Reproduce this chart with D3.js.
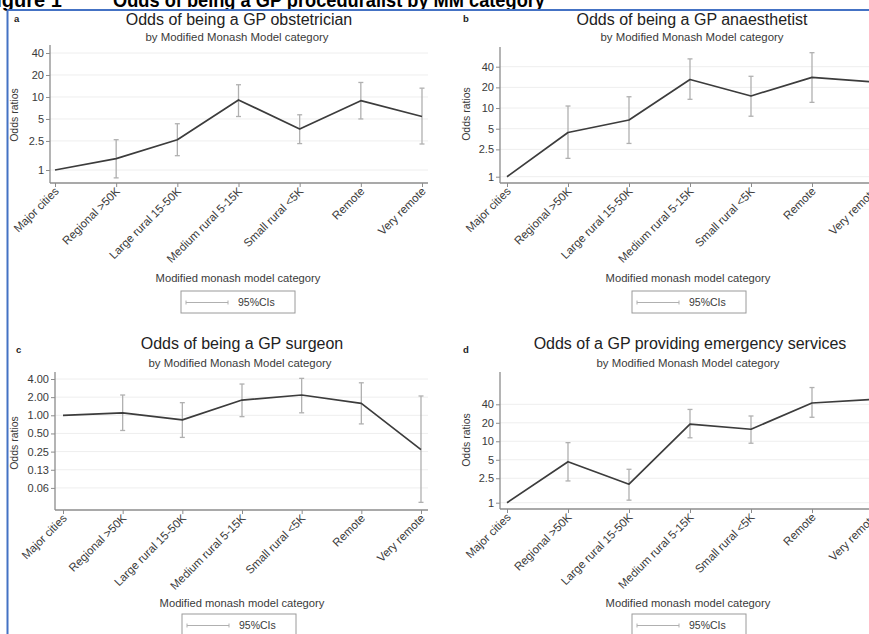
<!DOCTYPE html>
<html><head><meta charset="utf-8">
<script src="https://cdn.jsdelivr.net/npm/d3@7"></script>
<style>
html,body{margin:0;padding:0;background:#fff;}
svg{display:block;font-family:"Liberation Sans",Arial,sans-serif;}
</style></head>
<body>
<svg id="chart" width="869" height="634"></svg>
<script>
// ---------- DATA ----------
const categories = ["Major cities","Regional >50K","Large rural 15-50K","Medium rural 5-15K","Small rural <5K","Remote","Very remote"];

const obstetricianOR = [1, 1.43, 2.6, 9.1, 3.65, 8.9, 5.4];
const obstetricianLo = [null, 0.78, 1.57, 5.4, 2.3, 5.0, 2.27];
const obstetricianHi = [null, 2.6, 4.3, 14.7, 5.7, 15.8, 13.2];

const anaesthetistOR = [1, 4.4, 6.7, 26, 15, 28, 24];
const anaesthetistLo = [null, 1.85, 3.05, 13.4, 7.6, 12.1, 11];
const anaesthetistHi = [null, 10.7, 14.6, 52, 29, 64, 50];

const surgeonOR = [1, 1.1, 0.84, 1.79, 2.17, 1.58, 0.27];
const surgeonLo = [null, 0.56, 0.43, 0.95, 1.1, 0.72, 0.036];
const surgeonHi = [null, 2.17, 1.62, 3.3, 4.1, 3.46, 2.09];

const emergencyOR = [1, 4.65, 2.0, 19, 15.7, 42, 48];
const emergencyLo = [null, 2.26, 1.1, 11.4, 9.3, 24.6, 25];
const emergencyHi = [null, 9.5, 3.5, 33, 25.8, 75, 90];

const ticksWide = [1, 2.5, 5, 10, 20, 40];
const ticksWideLabels = ["1", "2.5", "5", "10", "20", "40"];
const ticksSurgeon = [0.0625, 0.125, 0.25, 0.5, 1, 2, 4];
const ticksSurgeonLabels = ["0.06", "0.13", "0.25", "0.50", "1.00", "2.00", "4.00"];

const panelLetters = ["a", "b", "c", "d"];
const panelTitles = ["Odds of being a GP obstetrician", "Odds of being a GP anaesthetist",
                     "Odds of being a GP surgeon", "Odds of a GP providing emergency services"];
const subtitle = "by Modified Monash Model category";
const xAxisTitle = "Modified monash model category";
const yAxisTitle = "Odds ratios";
const legendLabel = "95%CIs";
const headingA = "Figure 1";
const headingB = "Odds of being a GP proceduralist by MM category";

// ---------- LAYOUT (positions only) ----------
const layouts = [
  {ax:50, x0:55, x6:422, gridR:428, top:45, base:183, yDom:[1,40], yRng:[170,53],
   letter:[14,22], title:[239,25], sub:[237,41], ytitle:[15,115], xtitle:[238,282], legend:[181,291]},
  {ax:500, x0:507, x6:873, gridR:880, top:47, base:183, yDom:[1,40], yRng:[176.7,66.7],
   letter:[463,22], title:[692,25], sub:[692,41], ytitle:[467,114], xtitle:[688,282], legend:[632,291]},
  {ax:55, x0:63, x6:421, gridR:428, top:372, base:510, yDom:[1,4], yRng:[415.3,379],
   letter:[16,353], title:[242,349], sub:[240,367], ytitle:[15,443], xtitle:[242,607], legend:[182,614]},
  {ax:500, x0:507, x6:873, gridR:880, top:372, base:509, yDom:[1,40], yRng:[502.7,404.3],
   letter:[463,353], title:[690,349], sub:[688,367], ytitle:[467,440], xtitle:[688,607], legend:[632,614]}
];

const series = [
  {or:obstetricianOR, lo:obstetricianLo, hi:obstetricianHi, ticks:ticksWide, labels:ticksWideLabels},
  {or:anaesthetistOR, lo:anaesthetistLo, hi:anaesthetistHi, ticks:ticksWide, labels:ticksWideLabels},
  {or:surgeonOR, lo:surgeonLo, hi:surgeonHi, ticks:ticksSurgeon, labels:ticksSurgeonLabels},
  {or:emergencyOR, lo:emergencyLo, hi:emergencyHi, ticks:ticksWide, labels:ticksWideLabels}
];

const svg = d3.select("#chart");
const textCol = "#3a3a3a", axisCol = "#8c8c8c", lineCol = "#3c3c3c", ciCol = "#b0b0b0", gridCol = "#eeeeee";
const FF = "Liberation Sans, Arial, sans-serif";

// heading (cut off at top, as in the source image)
svg.append("text").attr("x", -16).attr("y", 7).attr("font-size", 20).attr("font-weight", "bold")
  .attr("fill", "#000").text(headingA);
svg.append("text").attr("x", 113).attr("y", 7).attr("font-size", 20).attr("font-weight", "bold")
  .attr("fill", "#000").attr("textLength", 432).attr("lengthAdjust", "spacingAndGlyphs").text(headingB);

series.forEach((s, i) => {
  const L = layouts[i];
  const g = svg.append("g");
  const x = d3.scalePoint().domain(categories).range([L.x0, L.x6]);
  const y = d3.scaleLog().domain(L.yDom).range(L.yRng);

  // gridlines
  g.selectAll(".grid").data(s.ticks).join("line")
    .attr("x1", L.ax).attr("x2", L.gridR)
    .attr("y1", d => y(d)).attr("y2", d => y(d))
    .attr("stroke", gridCol).attr("stroke-width", 1);

  // y axis
  const yAxis = d3.axisLeft(y).tickValues(s.ticks).tickFormat((d, k) => s.labels[k]).tickSize(4).tickPadding(2);
  const yg = g.append("g").attr("transform", `translate(${L.ax},0)`).call(yAxis);
  yg.select(".domain").remove();
  yg.append("line").attr("x1", 0).attr("x2", 0).attr("y1", L.top).attr("y2", L.base).attr("stroke", axisCol).attr("stroke-width", 1.3);
  yg.selectAll(".tick line").attr("stroke", axisCol);
  yg.selectAll(".tick text").attr("fill", textCol).attr("font-size", 11).attr("font-family", FF);

  // x axis
  const xAxis = d3.axisBottom(x).tickSize(4).tickPadding(2);
  const xg = g.append("g").attr("transform", `translate(0,${L.base})`).call(xAxis);
  xg.select(".domain").remove();
  xg.append("line").attr("x1", L.ax).attr("x2", L.gridR).attr("y1", 0).attr("y2", 0).attr("stroke", axisCol).attr("stroke-width", 1.3);
  xg.selectAll(".tick line").attr("stroke", axisCol);
  xg.selectAll(".tick text").attr("fill", textCol).attr("font-size", 11.5)
    .attr("font-family", FF)
    .attr("text-anchor", "end").attr("dy", null).attr("y", null)
    .attr("transform", "translate(4,9) rotate(-45)");

  // CIs
  const ciData = categories.map((c, k) => ({c, lo: s.lo[k], hi: s.hi[k]})).filter(d => d.lo != null);
  const ci = g.append("g").attr("stroke", ciCol).attr("stroke-width", 1.3);
  ci.selectAll(".v").data(ciData).join("line")
    .attr("x1", d => x(d.c)).attr("x2", d => x(d.c)).attr("y1", d => y(d.lo)).attr("y2", d => y(d.hi));
  ci.selectAll(".ct").data(ciData).join("line")
    .attr("x1", d => x(d.c) - 2.5).attr("x2", d => x(d.c) + 2.5).attr("y1", d => y(d.hi)).attr("y2", d => y(d.hi));
  ci.selectAll(".cb").data(ciData).join("line")
    .attr("x1", d => x(d.c) - 2.5).attr("x2", d => x(d.c) + 2.5).attr("y1", d => y(d.lo)).attr("y2", d => y(d.lo));

  // OR line
  const line = d3.line().x((d, k) => x(categories[k])).y(d => y(d));
  g.append("path").datum(s.or).attr("d", line).attr("fill", "none")
    .attr("stroke", lineCol).attr("stroke-width", 1.7).attr("stroke-linejoin", "round");

  // titles
  g.append("text").attr("x", L.letter[0]).attr("y", L.letter[1]).attr("font-size", 9.5).attr("font-weight", "bold")
    .attr("fill", "#222").text(panelLetters[i]);
  g.append("text").attr("x", L.title[0]).attr("y", L.title[1]).attr("text-anchor", "middle")
    .attr("font-size", 16).attr("fill", "#222").text(panelTitles[i]);
  g.append("text").attr("x", L.sub[0]).attr("y", L.sub[1]).attr("text-anchor", "middle")
    .attr("font-size", 11.4).attr("fill", textCol).text(subtitle);
  g.append("text").attr("transform", `translate(${L.ytitle[0] + 3},${L.ytitle[1]}) rotate(-90)`)
    .attr("text-anchor", "middle").attr("font-size", 10.5).attr("fill", textCol).text(yAxisTitle);
  g.append("text").attr("x", L.xtitle[0]).attr("y", L.xtitle[1]).attr("text-anchor", "middle")
    .attr("font-size", 11.2).attr("fill", textCol).text(xAxisTitle);

  // legend
  const lg = g.append("g").attr("transform", `translate(${L.legend[0]},${L.legend[1]})`);
  lg.append("rect").attr("x", 0).attr("y", 0).attr("width", 114).attr("height", 22)
    .attr("fill", "#fff").attr("stroke", "#9a9a9a").attr("stroke-width", 1);
  lg.append("line").attr("x1", 5).attr("x2", 47).attr("y1", 11.5).attr("y2", 11.5).attr("stroke", ciCol).attr("stroke-width", 1.2);
  lg.append("line").attr("x1", 5).attr("x2", 5).attr("y1", 9.5).attr("y2", 13.5).attr("stroke", ciCol);
  lg.append("line").attr("x1", 47).attr("x2", 47).attr("y1", 9.5).attr("y2", 13.5).attr("stroke", ciCol);
  lg.append("text").attr("x", 57).attr("y", 15).attr("font-size", 10.5).attr("fill", textCol).text(legendLabel);
});

// blue frame
svg.append("line").attr("x1", 7).attr("x2", 869).attr("y1", 10).attr("y2", 10).attr("stroke", "#4472c4").attr("stroke-width", 2);
svg.append("line").attr("x1", 7.5).attr("x2", 7.5).attr("y1", 10).attr("y2", 634).attr("stroke", "#4472c4").attr("stroke-width", 2);
</script>
</body></html>
